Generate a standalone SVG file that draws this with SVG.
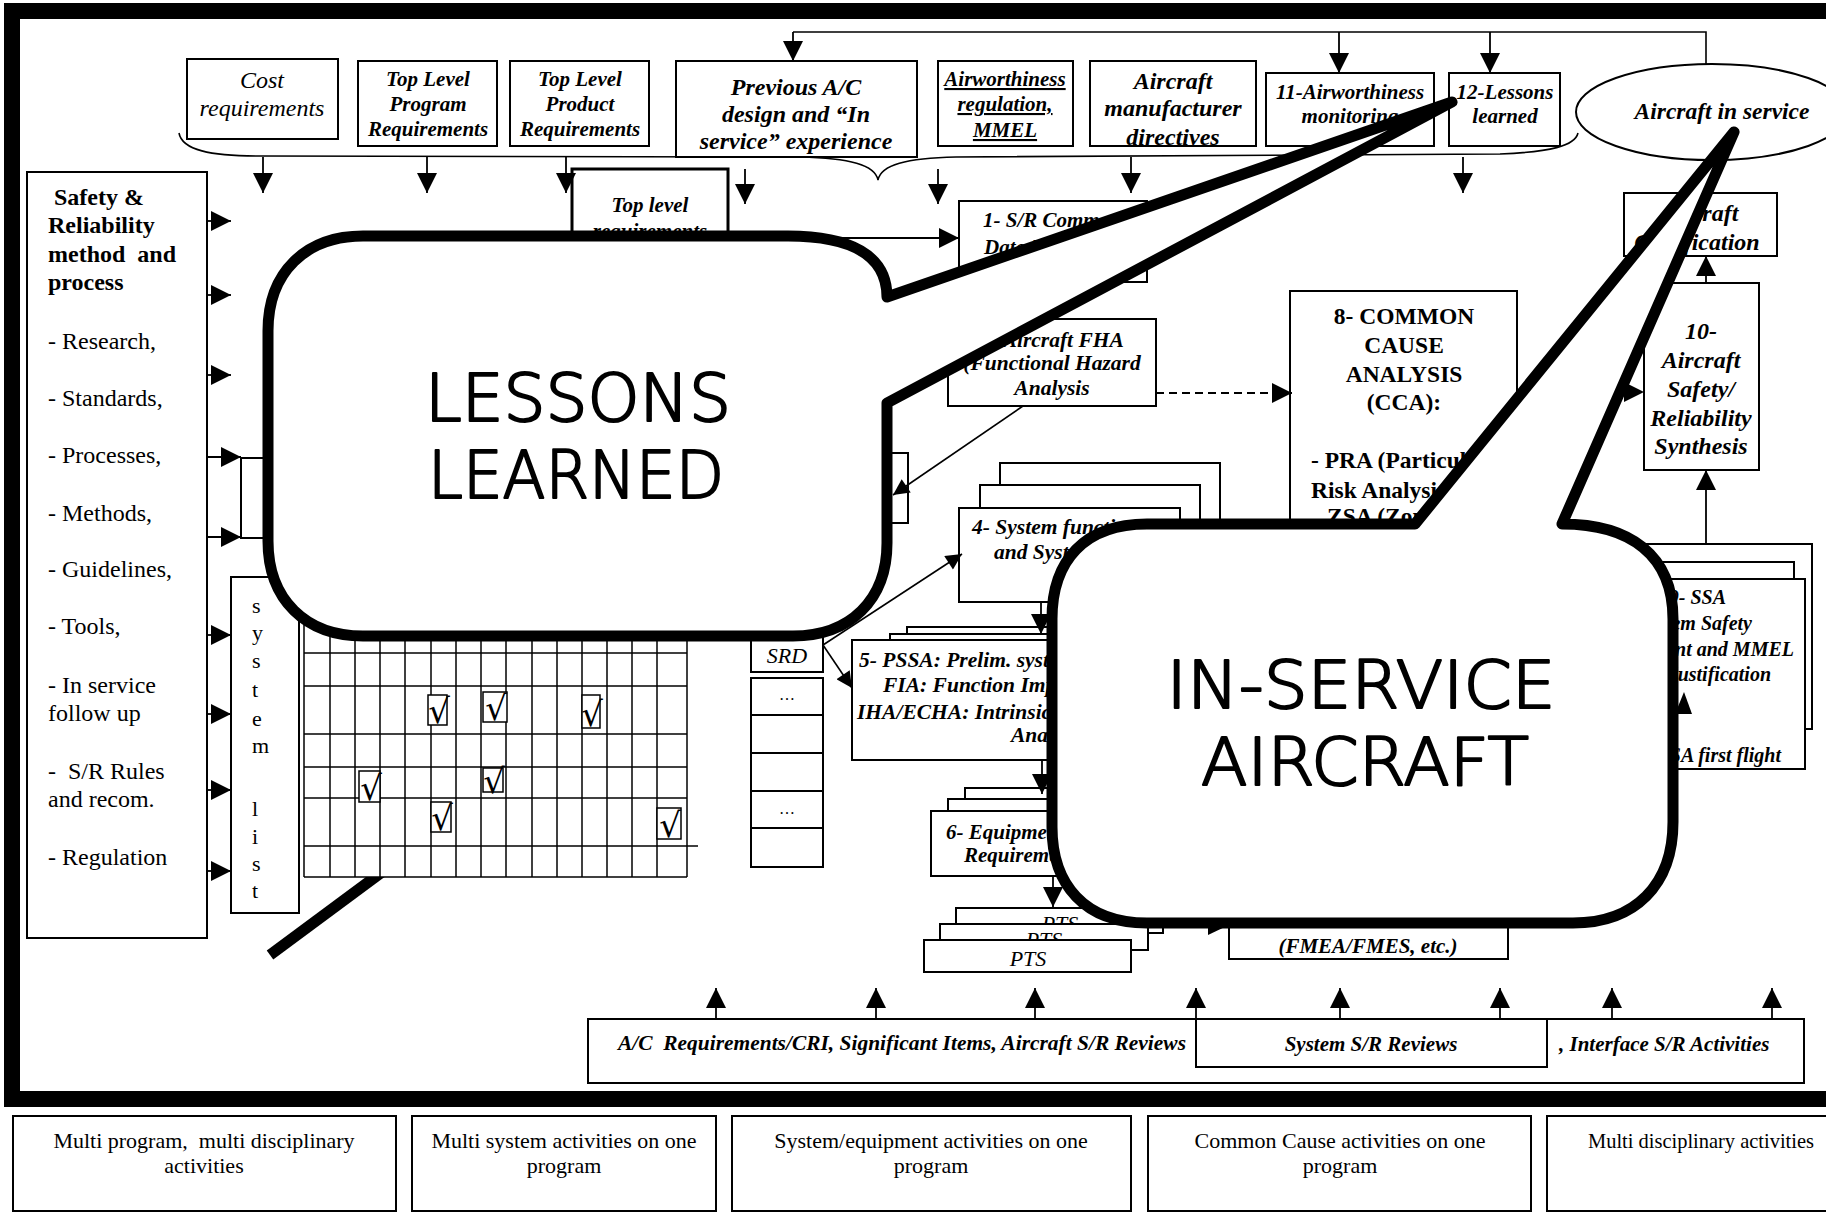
<svg xmlns="http://www.w3.org/2000/svg" width="1826" height="1214" viewBox="0 0 1826 1214">
<defs>
<marker id="ah" viewBox="0 0 10 10" refX="10" refY="5" markerWidth="20" markerHeight="20" markerUnits="userSpaceOnUse" orient="auto"><path d="M0,0 L10,5 L0,10 Z" fill="#000"/></marker>
<marker id="ahs" viewBox="0 0 10 10" refX="10" refY="5" markerWidth="19" markerHeight="16" markerUnits="userSpaceOnUse" orient="auto"><path d="M0,0 L10,5 L0,10 Z" fill="#000"/></marker>
<clipPath id="ptsBack"><rect x="956" y="900" width="207" height="24"/></clipPath>
<clipPath id="ptsMid"><rect x="940" y="916" width="208" height="24"/></clipPath>
</defs>
<style>
.bx{fill:#fff;stroke:#000;stroke-width:2}
.bx3{fill:#fff;stroke:#000;stroke-width:3}
.ln{fill:none;stroke:#000;stroke-width:1.6}
.ar{fill:none;stroke:#000;stroke-width:1.8;marker-end:url(#ah)}
.as{fill:none;stroke:#000;stroke-width:1.6;marker-end:url(#ahs)}
.bi{font-family:"Liberation Serif","Times New Roman",serif;font-weight:bold;font-style:italic;fill:#000}
.it{font-family:"Liberation Serif","Times New Roman",serif;font-style:italic;fill:#000}
.rg{font-family:"Liberation Serif","Times New Roman",serif;fill:#000}
.bd{font-family:"Liberation Serif","Times New Roman",serif;font-weight:bold;fill:#000}
.c{text-anchor:middle}
.e{text-anchor:end}
.pre{white-space:pre}
.bub{fill:#fff;stroke:#000;stroke-width:11;stroke-linejoin:round}
.bt{font-family:"DejaVu Sans",sans-serif;font-weight:300;font-size:66px;text-anchor:middle;fill:#000;stroke:#000;stroke-width:2.2;stroke-linejoin:round}
.ck{fill:#fff;stroke:#000;stroke-width:1.5}
.cm{font-family:"DejaVu Serif","Liberation Serif",serif;font-size:34px;text-anchor:middle;fill:#000}
.grid line{stroke:#000;stroke-width:1.5}
</style>

<rect width="1826" height="1214" fill="#fff"/>
<rect x="12" y="11" width="1900" height="1088" fill="none" stroke="#000" stroke-width="16"/>

<!-- top row -->
<g id="cost"><rect class="bx" x="187" y="59" width="151" height="80"/>
<text class="it c" font-size="24" x="262" y="88">Cost</text>
<text class="it c" font-size="24" x="262" y="116">requirements</text></g>

<g id="tl-program"><rect class="bx" x="358" y="61" width="139" height="85"/>
<text class="bi c" font-size="21" x="428" y="86">Top Level</text>
<text class="bi c" font-size="21" x="428" y="111">Program</text>
<text class="bi c" font-size="21" x="428" y="136">Requirements</text></g>

<g id="tl-product"><rect class="bx" x="510" y="61" width="139" height="85"/>
<text class="bi c" font-size="21" x="580" y="86">Top Level</text>
<text class="bi c" font-size="21" x="580" y="111">Product</text>
<text class="bi c" font-size="21" x="580" y="136">Requirements</text></g>

<g id="previous"><rect class="bx" x="676" y="61" width="241" height="96"/>
<text class="bi c" font-size="24" x="796" y="95">Previous A/C</text>
<text class="bi c" font-size="24" x="796" y="122">design and “In</text>
<text class="bi c" font-size="24" x="796" y="149">service” experience</text></g>

<g id="airworthiness-reg"><rect class="bx" x="938" y="61" width="135" height="85"/>
<text class="bi c" font-size="21" x="1005" y="86" text-decoration="underline">Airworthiness</text>
<text class="bi c" font-size="21" x="1005" y="111" text-decoration="underline">regulation,</text>
<text class="bi c" font-size="21" x="1005" y="137" text-decoration="underline">MMEL</text></g>

<g id="manufacturer"><rect class="bx" x="1090" y="61" width="166" height="85"/>
<text class="bi c" font-size="24" x="1173" y="89">Aircraft</text>
<text class="bi c" font-size="24" x="1173" y="116">manufacturer</text>
<text class="bi c" font-size="24" x="1173" y="145">directives</text></g>

<g id="n11"><rect class="bx" x="1266" y="73" width="168" height="73"/>
<text class="bi c" font-size="21" x="1350" y="99">11-Airworthiness</text>
<text class="bi c" font-size="21" x="1350" y="123">monitoring</text></g>

<g id="n12"><rect class="bx" x="1449" y="73" width="111" height="73"/>
<text class="bi c" font-size="21" x="1505" y="99">12-Lessons</text>
<text class="bi c" font-size="21" x="1505" y="123">learned</text></g>

<g id="in-service"><ellipse cx="1712" cy="112" rx="136" ry="48" fill="#fff" stroke="#000" stroke-width="2"/>
<text class="bi c" font-size="23.5" x="1722" y="119">Aircraft in service</text></g>

<!-- left -->
<g id="safety"><rect class="bx" x="27" y="172" width="180" height="766"/>
<text class="bd pre" font-size="24" x="48" y="205"> Safety &amp;</text>
<text class="bd" font-size="24" x="48" y="233">Reliability</text>
<text class="bd pre" font-size="24" x="48" y="262">method  and</text>
<text class="bd" font-size="24" x="48" y="290">process</text>
<text class="rg" font-size="24" x="48" y="349">- Research,</text>
<text class="rg" font-size="24" x="48" y="406">- Standards,</text>
<text class="rg" font-size="24" x="48" y="463">- Processes,</text>
<text class="rg" font-size="24" x="48" y="521">- Methods,</text>
<text class="rg" font-size="24" x="48" y="577">- Guidelines,</text>
<text class="rg" font-size="24" x="48" y="634">- Tools,</text>
<text class="rg" font-size="24" x="48" y="693">- In service</text>
<text class="rg" font-size="24" x="48" y="721">follow up</text>
<text class="rg pre" font-size="24" x="48" y="779">-  S/R Rules</text>
<text class="rg" font-size="24" x="48" y="807">and recom.</text>
<text class="rg" font-size="24" x="48" y="865">- Regulation</text></g>

<g id="small-box"><rect class="bx" x="241" y="458" width="60" height="80"/></g>

<g id="system-list"><rect class="bx" x="231" y="577" width="68" height="336"/>
<text class="rg" font-size="22" x="252" y="613">s</text>
<text class="rg" font-size="22" x="252" y="640">y</text>
<text class="rg" font-size="22" x="252" y="668">s</text>
<text class="rg" font-size="22" x="252" y="697">t</text>
<text class="rg" font-size="22" x="252" y="726">e</text>
<text class="rg" font-size="22" x="252" y="753">m</text>
<text class="rg" font-size="22" x="252" y="816">l</text>
<text class="rg" font-size="22" x="252" y="844">i</text>
<text class="rg" font-size="22" x="252" y="871">s</text>
<text class="rg" font-size="22" x="252" y="898">t</text></g>

<line x1="382" y1="872" x2="270" y2="955" stroke="#000" stroke-width="11"/>

<g id="matrix" class="grid">
<rect x="304" y="625" width="383" height="252" fill="#fff"/>
<line x1="304" y1="625" x2="304" y2="877"/><line x1="330" y1="625" x2="330" y2="877"/><line x1="355" y1="625" x2="355" y2="877"/><line x1="380" y1="625" x2="380" y2="877"/><line x1="405" y1="625" x2="405" y2="877"/><line x1="431" y1="625" x2="431" y2="877"/><line x1="456" y1="625" x2="456" y2="877"/><line x1="481" y1="625" x2="481" y2="877"/><line x1="506" y1="625" x2="506" y2="877"/><line x1="532" y1="625" x2="532" y2="877"/><line x1="557" y1="625" x2="557" y2="877"/><line x1="582" y1="625" x2="582" y2="877"/><line x1="607" y1="625" x2="607" y2="877"/><line x1="632" y1="625" x2="632" y2="877"/><line x1="657" y1="625" x2="657" y2="877"/><line x1="687" y1="625" x2="687" y2="877"/>
<line x1="304" y1="653" x2="687" y2="653"/><line x1="304" y1="686" x2="687" y2="686"/><line x1="304" y1="734" x2="687" y2="734"/><line x1="304" y1="767" x2="687" y2="767"/><line x1="304" y1="798" x2="687" y2="798"/><line x1="304" y1="846" x2="698" y2="846"/><line x1="304" y1="877" x2="687" y2="877"/>
<rect class="ck" x="428" y="695" width="19" height="30"/><text class="cm" x="439" y="723">√</text>
<rect class="ck" x="483" y="692" width="24" height="30"/><text class="cm" x="496" y="720">√</text>
<rect class="ck" x="582" y="695" width="18" height="33"/><text class="cm" x="592" y="726">√</text>
<rect class="ck" x="359" y="771" width="21" height="31"/><text class="cm" x="371" y="800">√</text>
<rect class="ck" x="483" y="768" width="20" height="24"/><text class="cm" x="494" y="793">√</text>
<rect class="ck" x="431" y="802" width="20" height="30"/><text class="cm" x="442" y="830">√</text>
<rect class="ck" x="657" y="808" width="24" height="31"/><text class="cm" x="670" y="837">√</text>
</g>

<!-- centre -->
<g id="top-level-req"><rect class="bx3" x="572" y="169" width="156" height="100"/>
<text class="bi c" font-size="21" x="650" y="212">Top level</text>
<text class="bi c" font-size="21" x="650" y="238">requirements</text></g>

<g id="n1"><rect class="bx" x="959" y="201" width="188" height="81"/>
<text class="bi" font-size="21" x="983" y="227">1- S/R Common</text>
<text class="bi" font-size="21" x="984" y="254">Data D</text></g>

<g id="n2-fha"><rect class="bx" x="948" y="319" width="208" height="87"/>
<text class="bi c" font-size="21.5" x="1052" y="347">2- Aircraft FHA</text>
<text class="bi c" font-size="21.5" x="1052" y="370">(Functional Hazard</text>
<text class="bi c" font-size="21.5" x="1052" y="395">Analysis</text></g>

<g id="n3"><rect class="bx" x="820" y="453" width="88" height="70"/></g>

<g id="n4"><rect class="bx" x="1000" y="463" width="220" height="125"/><rect class="bx" x="980" y="485" width="220" height="112"/><rect class="bx" x="959" y="508" width="221" height="94"/>
<text class="bi" font-size="21.5" x="972" y="534">4- System functions</text>
<text class="bi" font-size="21.5" x="994" y="559">and System</text></g>

<g id="srd-list">
<rect class="bx" x="751" y="628" width="72" height="44"/>
<text class="it c" font-size="22" x="787" y="663">SRD</text>
<rect class="bx" x="751" y="678" width="72" height="37"/><text class="rg c" font-size="16" x="787" y="700">…</text>
<rect class="bx" x="751" y="715" width="72" height="38"/>
<rect class="bx" x="751" y="753" width="72" height="38"/>
<rect class="bx" x="751" y="791" width="72" height="37"/><text class="rg c" font-size="16" x="787" y="814">…</text>
<rect class="bx" x="751" y="828" width="72" height="39"/></g>

<g id="n5"><rect class="bx" x="907" y="627" width="300" height="115"/><rect class="bx" x="890" y="634" width="300" height="120"/><rect class="bx" x="852" y="640" width="330" height="120"/>
<text class="bi" font-size="21.5" x="859" y="667">5- PSSA: Prelim. system</text>
<text class="bi" font-size="21.5" x="883" y="692">FIA: Function Impact</text>
<text class="bi" font-size="21.5" x="857" y="719">IHA/ECHA: Intrinsic</text>
<text class="bi" font-size="21.5" x="1011" y="742">Analysis</text></g>

<g id="n6"><rect class="bx" x="965" y="788" width="240" height="62"/><rect class="bx" x="948" y="799" width="240" height="62"/><rect class="bx" x="931" y="811" width="250" height="65"/>
<text class="bi" font-size="21" x="946" y="839">6- Equipment</text>
<text class="bi" font-size="21" x="964" y="862">Requirements</text></g>

<g id="pts"><rect class="bx" x="956" y="908" width="207" height="25"/><text class="it c" font-size="22" x="1060" y="931" clip-path="url(#ptsBack)">PTS</text>
<rect class="bx" x="940" y="924" width="208" height="26"/><text class="it c" font-size="22" x="1044" y="947" clip-path="url(#ptsMid)">PTS</text>
<rect class="bx" x="924" y="940" width="207" height="32"/><text class="it c" font-size="22" x="1028" y="966">PTS</text></g>

<g id="n7-fmea"><rect class="bx" x="1229" y="880" width="279" height="79"/>
<text class="bi c" font-size="21" x="1368" y="953">(FMEA/FMES, etc.)</text></g>

<g id="n8-cca"><rect class="bx" x="1290" y="291" width="227" height="280"/>
<text class="bd c" font-size="23.5" x="1404" y="324">8- COMMON</text>
<text class="bd c" font-size="23.5" x="1404" y="353">CAUSE</text>
<text class="bd c" font-size="23.5" x="1404" y="382">ANALYSIS</text>
<text class="bd c" font-size="23.5" x="1404" y="410">(CCA):</text>
<text class="bd" font-size="23.5" x="1311" y="468">- PRA (Particular</text>
<text class="bd" font-size="23.5" x="1311" y="498">Risk Analysis)</text>
<text class="bd" font-size="23.5" x="1327" y="524">ZSA (Zonal</text></g>

<g id="cert"><rect class="bx" x="1624" y="193" width="153" height="63"/>
<text class="bi c" font-size="24" x="1699" y="221">Aircraft</text>
<text class="bi c" font-size="24" x="1697" y="250">Certification</text></g>

<g id="n10"><rect class="bx" x="1644" y="283" width="115" height="187"/>
<text class="bi c" font-size="24" x="1701" y="339">10-</text>
<text class="bi c" font-size="24" x="1701" y="368">Aircraft</text>
<text class="bi c" font-size="24" x="1701" y="397">Safety/</text>
<text class="bi c" font-size="24" x="1701" y="426">Reliability</text>
<text class="bi c" font-size="24" x="1701" y="454">Synthesis</text></g>

<g id="n9-ssa"><rect class="bx" x="1600" y="544" width="212" height="185"/><rect class="bx" x="1600" y="562" width="194" height="180"/><rect class="bx" x="1600" y="579" width="205" height="190"/>
<text class="bi e" font-size="20" x="1726" y="604">9- SSA</text>
<text class="bi e" font-size="20" x="1752" y="630">System Safety</text>
<text class="bi e" font-size="20" x="1794" y="656">Assessment and MMEL</text>
<text class="bi e" font-size="20" x="1771" y="681">justification</text>
<text class="bi e" font-size="20" x="1781" y="762">SSA first flight</text></g>

<!-- bottom review bar -->
<g id="reviews"><rect class="bx" x="588" y="1019" width="1216" height="64"/>
<text class="bi pre" font-size="21" x="618" y="1050" textLength="568" lengthAdjust="spacingAndGlyphs">A/C  Requirements/CRI, Significant Items, Aircraft S/R Reviews</text>
<text class="bi" font-size="21" x="1559" y="1051">, Interface S/R Activities</text></g>
<g id="system-reviews"><rect class="bx" x="1196" y="1019" width="351" height="48"/>
<text class="bi c" font-size="21" x="1371" y="1051">System S/R Reviews</text></g>

<!-- legend -->
<g id="legend1"><rect class="bx" x="13" y="1116" width="383" height="95"/>
<text class="rg c pre" font-size="22" x="204" y="1148">Multi program,  multi disciplinary</text>
<text class="rg c" font-size="22" x="204" y="1173">activities</text></g>
<g id="legend2"><rect class="bx" x="412" y="1116" width="304" height="95"/>
<text class="rg c" font-size="22" x="564" y="1148">Multi system activities on one</text>
<text class="rg c" font-size="22" x="564" y="1173">program</text></g>
<g id="legend3"><rect class="bx" x="732" y="1116" width="399" height="95"/>
<text class="rg c" font-size="22" x="931" y="1148">System/equipment activities on one</text>
<text class="rg c" font-size="22" x="931" y="1173">program</text></g>
<g id="legend4"><rect class="bx" x="1148" y="1116" width="383" height="95"/>
<text class="rg c" font-size="22" x="1340" y="1148">Common Cause activities on one</text>
<text class="rg c" font-size="22" x="1340" y="1173">program</text></g>
<g id="legend5"><rect class="bx" x="1547" y="1116" width="320" height="95"/>
<text class="rg" font-size="21.5" x="1588" y="1148" textLength="226" lengthAdjust="spacingAndGlyphs">Multi disciplinary activities</text></g>

<!-- connectors -->
<g id="connectors">
<path class="ln" d="M1706,64 L1706,32 L793,32"/>
<path class="ar" d="M793,32 L793,61"/>
<path class="ar" d="M1339,32 L1339,73"/>
<path class="ar" d="M1490,32 L1490,73"/>
<path class="ln" d="M179,133 C182,150 210,156 260,156 L800,157 C850,158 875,165 878,180 C881,165 906,158 956,157 L1500,154 C1550,152 1575,146 1578,133"/>
<path class="ar" d="M263,157 L263,193"/>
<path class="ar" d="M427,157 L427,193"/>
<path class="ar" d="M566,157 L566,193"/>
<path class="ar" d="M745,169 L745,204"/>
<path class="ar" d="M938,169 L938,204"/>
<path class="ar" d="M1131,157 L1131,193"/>
<path class="ar" d="M1463,157 L1463,193"/>
<path class="ar" d="M728,238 L959,238"/>
<path class="ar" d="M1156,393 L1292,393" stroke-dasharray="8,5"/>
<path class="as" d="M1023,406 L893,495"/>
<path class="as" d="M823,645 L962,554"/>
<path class="as" d="M823,645 L852,688"/>
<path class="ar" d="M1041,602 L1041,634"/>
<path class="ar" d="M1042,760 L1042,794"/>
<path class="ar" d="M1053,876 L1053,907"/>
<path class="ar" d="M1706,544 L1706,470"/>
<path class="ar" d="M1706,283 L1706,256"/>
<path class="ar" d="M207,221 L231,221"/>
<path class="ar" d="M207,295 L231,295"/>
<path class="ar" d="M207,375 L231,375"/>
<path class="ar" d="M207,457 L241,457"/>
<path class="ar" d="M207,537 L241,537"/>
<path class="ar" d="M207,635 L231,635"/>
<path class="ar" d="M207,714 L231,714"/>
<path class="ar" d="M207,790 L231,790"/>
<path class="ar" d="M207,871 L231,871"/>
<path class="ar" d="M716,1019 L716,988"/>
<path class="ar" d="M876,1019 L876,988"/>
<path class="ar" d="M1035,1019 L1035,988"/>
<path class="ar" d="M1196,1019 L1196,988"/>
<path class="ar" d="M1340,1019 L1340,988"/>
<path class="ar" d="M1500,1019 L1500,988"/>
<path class="ar" d="M1612,1019 L1612,988"/>
<path class="ar" d="M1772,1019 L1772,988"/>
<polygon points="1624,382 1644,392 1624,402" fill="#000"/>
<polygon points="1208,915 1229,925 1208,935" fill="#000"/>
<polygon points="1675,714 1684,692 1692,714" fill="#000"/>
</g>

<!-- callouts -->
<g id="callout-lessons">
<path class="bub" d="M363,236 L788,236 C850,236 887,255 887,297 L1452,102 L887,403 L887,543 C887,600 850,636 793,636 L363,636 C306,636 268,600 268,541 L268,331 C268,272 306,236 363,236 Z"/>
<text class="bt" x="578" y="421" textLength="306" lengthAdjust="spacingAndGlyphs">LESSONS</text>
<text class="bt" x="576" y="498" textLength="296" lengthAdjust="spacingAndGlyphs">LEARNED</text>
</g>
<g id="callout-inservice">
<path class="bub" d="M1147,524 L1415,524 L1734,132 L1562,524 C1630,524 1673,555 1673,619 L1673,822 C1673,885 1635,923 1573,923 L1147,923 C1085,923 1052,885 1052,827 L1052,619 C1052,560 1085,524 1147,524 Z"/>
<text class="bt" x="1361" y="708" textLength="389" lengthAdjust="spacingAndGlyphs">IN-SERVICE</text>
<text class="bt" x="1365" y="785" textLength="328" lengthAdjust="spacingAndGlyphs">AIRCRAFT</text>
</g>
</svg>
